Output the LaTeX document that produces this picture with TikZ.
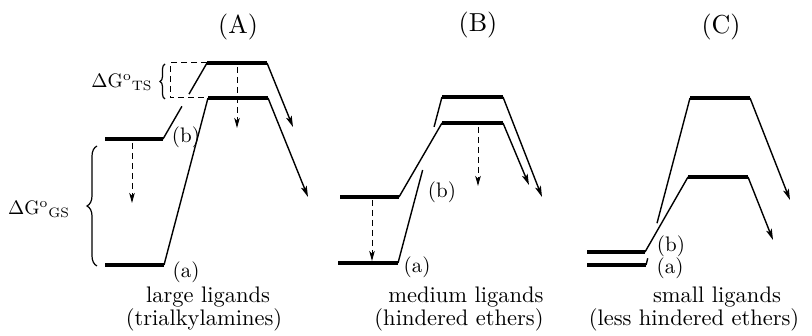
\documentclass[tikz,border=0pt]{standalone}
\usetikzlibrary{arrows.meta,decorations.pathreplacing,calc}
\begin{document}
\begin{tikzpicture}[x=1pt,y=-1pt,
  enlevel/.style={line width=4pt},
  conn/.style={line width=1.4pt},
  droparrow/.style={line width=1.4pt,-{Stealth[length=11pt,width=6pt,inset=2.5pt]}},
  relaxarrow/.style={line width=1pt,dash pattern=on 6pt off 4pt,-{Stealth[length=10pt,width=5.5pt,inset=2.5pt]}},
  guideline/.style={line width=1pt,dash pattern=on 6pt off 4pt},
  bracestyle/.style={line width=1.2pt,decorate,decoration={brace,amplitude=#1}},
  lab/.style={inner sep=0pt,scale=2.1,transform shape},
  ptitle/.style={inner sep=0pt,scale=2.6,transform shape},
  captext/.style={inner sep=0pt,scale=2.25,transform shape},
  dg/.style={inner sep=0pt,scale=1.95,transform shape}]
\useasboundingbox (0,0) rectangle (812,336);

% ---------------- Panel A ----------------
\coordinate (Atu1) at (207,63);  \coordinate (Atu2) at (267,63);
\coordinate (Atl1) at (208,98);  \coordinate (Atl2) at (268,98);
\coordinate (Agb1) at (105,139); \coordinate (Agb2) at (163,139);
\coordinate (Aga1) at (105,265); \coordinate (Aga2) at (164,265);
\coordinate (Aeu) at (293,127);  \coordinate (Ael) at (308,197);
\draw[enlevel] (Atu1) -- (Atu2);
\draw[enlevel] (Atl1) -- (Atl2);
\draw[enlevel] (Agb1) -- (Agb2);
\draw[enlevel] (Aga1) -- (Aga2);
\draw[conn] (Agb2) -- ($(Agb2)!0.43!(Atu1)$);
\draw[conn] ($(Agb2)!0.59!(Atu1)$) -- (Atu1);
\draw[conn] (Aga2) -- (Atl1);
\draw[droparrow] (Atu2) -- (Aeu);
\draw[droparrow] (Atl2) -- (Ael);
\coordinate (Ad1s) at (237,67); \coordinate (Ad1e) at (237,128);
\coordinate (Ad2s) at (132,143); \coordinate (Ad2e) at (132,203);
\draw[relaxarrow] (Ad1s) -- (Ad1e);
\draw[relaxarrow] (Ad2s) -- (Ad2e);
\coordinate (Abx1) at (170,63); \coordinate (Abx2) at (170,98);
\draw[guideline] (Atu1) -- (Abx1) -- (Abx2) -- (Atl1);
\coordinate (Abt1) at (165,99); \coordinate (Abt2) at (165,64);
\draw[bracestyle=5pt] (Abt1) -- (Abt2);
\coordinate (Abg1) at (97,266); \coordinate (Abg2) at (97,146);
\draw[bracestyle=10pt] (Abg1) -- (Abg2);
\node[dg] (dgts) at (122,82) {$\Delta$G\textsuperscript{o}\textsubscript{TS}};
\node[dg] (dggs) at (39,209) {$\Delta$G\textsuperscript{o}\textsubscript{GS}};
\node[lab] (Alb) at (186,137) {(b)};
\node[lab] (Ala) at (186,272) {(a)};
\node[ptitle] (tA) at (238,27) {(A)};
\node[captext] (cA1) at (208,297) {large ligands};
\node[captext] (cA2) at (204,320) {(trialkylamines)};

% ---------------- Panel B ----------------
\coordinate (Btu1) at (442,97);  \coordinate (Btu2) at (503,97);
\coordinate (Btl1) at (442,123); \coordinate (Btl2) at (503,123);
\coordinate (Bgb1) at (340,197); \coordinate (Bgb2) at (399,197);
\coordinate (Bga1) at (338,263); \coordinate (Bga2) at (398,263);
\coordinate (Beu) at (542,197);  \coordinate (Bel) at (529,185);
\draw[enlevel] (Btu1) -- (Btu2);
\draw[enlevel] (Btl1) -- (Btl2);
\draw[enlevel] (Bgb1) -- (Bgb2);
\draw[enlevel] (Bga1) -- (Bga2);
\draw[conn] (Bgb2) -- (Btl1);
\draw[conn] (Bga2) -- ($(Bga2)!0.56!(Btu1)$);
\draw[conn] ($(Bga2)!0.82!(Btu1)$) -- (Btu1);
\draw[droparrow] (Btu2) -- (Beu);
\draw[droparrow] (Btl2) -- (Bel);
\coordinate (Bd1s) at (478,127); \coordinate (Bd1e) at (478,186);
\coordinate (Bd2s) at (372,200); \coordinate (Bd2e) at (372,261);
\draw[relaxarrow] (Bd1s) -- (Bd1e);
\draw[relaxarrow] (Bd2s) -- (Bd2e);
\node[lab] (Blb) at (442,192) {(b)};
\node[lab] (Bla) at (417,267) {(a)};
\node[ptitle] (tB) at (478,25) {(B)};
\node[captext] (cB1) at (466,297) {medium ligands};
\node[captext] (cB2) at (459,320) {(hindered ethers)};

% ---------------- Panel C ----------------
\coordinate (Ctu1) at (690,98);  \coordinate (Ctu2) at (750,98);
\coordinate (Ctl1) at (688,177); \coordinate (Ctl2) at (748,177);
\coordinate (Cgb1) at (587,252); \coordinate (Cgb2) at (645,252);
\coordinate (Cga1) at (587,265); \coordinate (Cga2) at (646,265);
\coordinate (Ceu) at (790,200);  \coordinate (Cel) at (773,240);
\draw[enlevel] (Ctu1) -- (Ctu2);
\draw[enlevel] (Ctl1) -- (Ctl2);
\draw[enlevel] (Cgb1) -- (Cgb2);
\draw[enlevel] (Cga1) -- (Cga2);
\draw[conn] (Cgb2) -- (Ctl1);
\draw[conn] (Cga2) -- ($(Cga2)!0.04!(Ctu1)$);
\draw[conn] ($(Cga2)!0.25!(Ctu1)$) -- (Ctu1);
\draw[droparrow] (Ctu2) -- (Ceu);
\draw[droparrow] (Ctl2) -- (Cel);
\node[lab] (Clb) at (671,246) {(b)};
\node[lab] (Cla) at (670,268) {(a)};
\node[ptitle] (tC) at (721,27) {(C)};
\node[captext] (cC1) at (717,297) {small ligands};
\node[captext] (cC2) at (694,320) {(less hindered ethers)};
\end{tikzpicture}
\end{document}
